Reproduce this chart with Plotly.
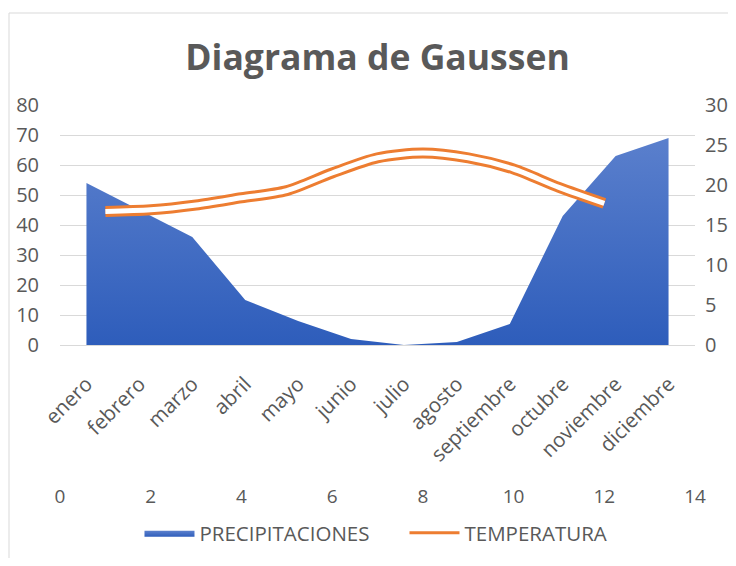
import plotly.graph_objects as go

months = ["enero", "febrero", "marzo", "abril", "mayo", "junio", "julio",
          "agosto", "septiembre", "octubre", "noviembre", "diciembre"]
precipitaciones = [54, 45, 36, 15, 8, 2, 0, 1, 7, 43, 63, 69]
month_num = [1, 2, 3, 4, 5, 6, 7, 8, 9, 10, 11, 12]
temperatura = [16.7, 16.9, 17.5, 18.4, 19.3, 21.5, 23.4, 24.0, 23.4, 22.0, 19.7, 17.7]

FONT = "Open Sans"
GREY = "#595959"
GRID = "#D9D9D9"
ORANGE = "#ED7D31"

# page body has an 8px margin, so the figure is 720x550 inside a 736x566 window
W, H = 720, 550
L, R, T, B = 52, 33, 97, 75
plot_h = H - T - B
plot_w = W - L - R
y_dom0 = (H - B - 337) / plot_h

fig = go.Figure()

fig.add_trace(go.Scatter(
    x=list(range(len(months))), y=precipitaciones, name="PRECIPITACIONES",
    mode="lines", line=dict(width=0, color="#4472C4"), fill="tozeroy",
    fillgradient=dict(type="vertical", start=0, stop=70,
                      colorscale=[[0, "#2E5DBB"], [1, "#5B80CD"]]),
    xaxis="x", yaxis="y", hoverinfo="skip"))

fig.add_trace(go.Scatter(
    x=month_num, y=temperatura, name="TEMPERATURA", showlegend=False,
    mode="lines",
    line=dict(color=ORANGE, width=11, shape="spline", smoothing=0.8),
    xaxis="x2", yaxis="y2"))
fig.add_trace(go.Scatter(
    x=month_num, y=temperatura, showlegend=False, mode="lines",
    line=dict(color="white", width=5, shape="spline", smoothing=0.8),
    xaxis="x2", yaxis="y2", hoverinfo="skip"))
# legend entry for the temperature series
fig.add_trace(go.Scatter(
    x=[None], y=[None], name="TEMPERATURA", mode="lines",
    line=dict(color=ORANGE, width=3), xaxis="x2", yaxis="y2"))

fig.update_layout(
    width=W, height=H,
    margin=dict(l=L, r=R, t=T, b=B, autoexpand=False),
    paper_bgcolor="white", plot_bgcolor="white",
    font=dict(family=FONT, color=GREY, size=19),
    title=dict(text="<b>Diagrama de Gaussen</b>", x=0.5, xref="paper",
               xanchor="center", y=1 - 50 / H, yanchor="middle",
               font=dict(size=35.5, color=GREY, family=FONT)),
    xaxis=dict(range=[-0.5, 11.5], tickvals=list(range(len(months))),
               ticktext=months, tickangle=-45, showgrid=False,
               showline=True, linecolor=GRID, linewidth=1, zeroline=False,
               ticks="", tickfont=dict(size=20.5, color=GREY), anchor="y",
               ticklabelstandoff=18, automargin=False),
    xaxis2=dict(range=[0, 14], overlaying="x", anchor="free", position=0,
                side="bottom", showgrid=False, showline=False, zeroline=False,
                dtick=2, tick0=0, ticks="", tickfont=dict(size=19, color=GREY),
                automargin=False),
    yaxis=dict(domain=[y_dom0, 1], range=[0, 80], dtick=10, showgrid=True,
               gridcolor=GRID, gridwidth=1, zeroline=False, showline=False,
               ticks="", ticklabelstandoff=20, automargin=False,
               tickfont=dict(size=20, color=GREY)),
    yaxis2=dict(domain=[y_dom0, 1], range=[0, 30], dtick=5, overlaying="y",
                side="right", anchor="x", showgrid=False, zeroline=False,
                showline=False, ticks="", ticklabelstandoff=9, automargin=False,
                tickfont=dict(size=20, color=GREY)),
    legend=dict(orientation="h", x=0.5425, xanchor="center",
                y=-(525 - (H - B)) / plot_h, yanchor="middle",
                font=dict(size=20.5, color=GREY), itemwidth=50,
                entrywidth=200, bgcolor="rgba(0,0,0,0)"),
    showlegend=True,
)

# chart border: only the left and top edges are visible in the reference
bx = (1 - L) / plot_w
by = (H - B - 5) / plot_h
fig.add_shape(type="line", xref="paper", yref="paper",
              x0=bx, x1=bx, y0=-0.6, y1=by, line=dict(color=GRID, width=1))
fig.add_shape(type="line", xref="paper", yref="paper",
              x0=bx, x1=1.4, y0=by, y1=by, line=dict(color=GRID, width=1))

fig.write_html("out.html")
